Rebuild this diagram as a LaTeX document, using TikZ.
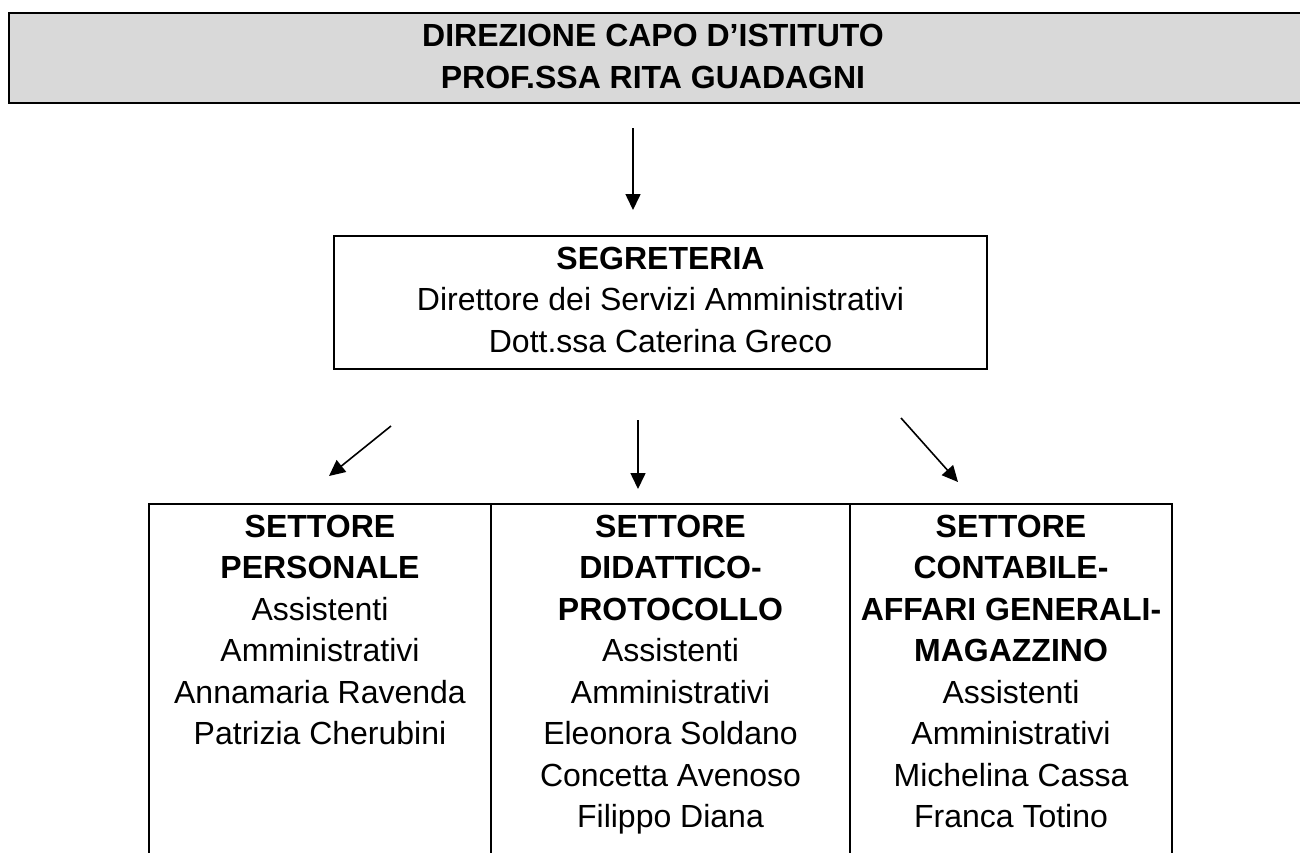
\documentclass[tikz,border=0pt]{standalone}
\usepackage{fontspec}
\setmainfont{Liberation Sans}
\usetikzlibrary{arrows.meta}
\definecolor{bannergray}{HTML}{D9D9D9}
\tikzset{
  frame/.style={line width=2pt},
  body/.style={font=\fontsize{32}{41.5}\selectfont, align=center, inner sep=0pt},
  conn/.style={line width=1.6pt, -{Triangle[width=15pt,length=16pt]}},
}
\begin{document}
\begin{tikzpicture}[x=1pt,y=-1pt]
\useasboundingbox (0,0) rectangle (1300,852);
\fill[white] (0,0) rectangle (1300,852);
% banner
\draw[frame, fill=bannergray] (9,13) rectangle (1320,103);
\node[body, font=\fontsize{32}{42}\selectfont\bfseries, anchor=north] (title) at (653,17)
  {\strut DIREZIONE CAPO D’ISTITUTO\\PROF.SSA RITA GUADAGNI};
% segreteria
\node[body, draw, frame, minimum width=653pt, minimum height=133pt] (seg) at (660.5,302.5)
  {\strut\textbf{SEGRETERIA}\\Direttore dei Servizi Amministrativi\\Dott.ssa Caterina Greco\strut};
% table
\draw[frame] (149,860) -- (149,504) -- (1172,504) -- (1172,860);
\draw[frame] (491,504) -- (491,860);
\draw[frame] (850,504) -- (850,860);
\node[body, anchor=north] (c1) at (320,508)
  {\strut\textbf{SETTORE}\\\textbf{PERSONALE}\\Assistenti\\Amministrativi\\Annamaria Ravenda\\Patrizia Cherubini};
\node[body, anchor=north] (c2) at (670.5,508)
  {\strut\textbf{SETTORE}\\\textbf{DIDATTICO-}\\\textbf{PROTOCOLLO}\\Assistenti\\Amministrativi\\Eleonora Soldano\\Concetta Avenoso\\Filippo Diana};
\node[body, anchor=north] (c3) at (1011,508)
  {\strut\textbf{SETTORE}\\\textbf{CONTABILE-}\\\textbf{AFFARI GENERALI-}\\\textbf{MAGAZZINO}\\Assistenti\\Amministrativi\\Michelina Cassa\\Franca Totino};
% arrows
\coordinate (a0s) at (633,128); \coordinate (a0e) at (633,210);
\coordinate (a1s) at (391,426); \coordinate (a1e) at (329,476);
\coordinate (a2s) at (638,420); \coordinate (a2e) at (638,489);
\coordinate (a3s) at (901,418); \coordinate (a3e) at (958,482);
\draw[conn] (a0s) -- (a0e);
\draw[conn] (a1s) -- (a1e);
\draw[conn] (a2s) -- (a2e);
\draw[conn] (a3s) -- (a3e);
\end{tikzpicture}
\end{document}
